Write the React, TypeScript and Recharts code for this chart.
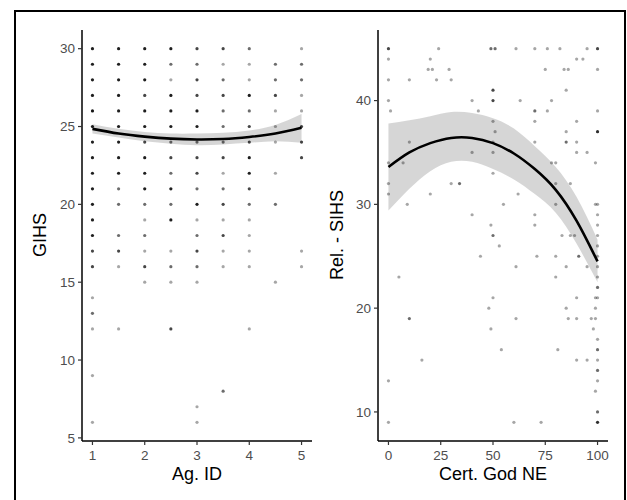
import { ComposedChart, Scatter, Area, Line, XAxis, YAxis } from 'recharts'

// left panel: Ag. ID vs GIHS
const agIdTicks = [1, 2, 3, 4, 5]
const gihsTicks = [5, 10, 15, 20, 25, 30]

// [x, y, number of overlapping answers]
const agIdPoints: [number, number, number][] = [
  [1, 30, 5], [1.5, 30, 5], [2, 30, 5], [2.5, 30, 5], [3, 30, 3], [3.5, 30, 3], [4, 30, 2], [5, 30, 1],
  [1, 29, 5], [1.5, 29, 5], [2, 29, 5], [2.5, 29, 2], [3, 29, 2], [3.5, 29, 1], [4, 29, 1], [4.5, 29, 2], [5, 29, 2],
  [1, 28, 5], [1.5, 28, 5], [2, 28, 5], [2.5, 28, 1], [3, 28, 3], [3.5, 28, 2], [4, 28, 1], [4.5, 28, 2], [5, 28, 2],
  [1, 27, 5], [1.5, 27, 5], [2, 27, 3], [2.5, 27, 5], [3, 27, 3], [3.5, 27, 3], [4, 27, 5], [4.5, 27, 3], [5, 27, 1],
  [1, 26, 6], [1.5, 26, 5], [2, 26, 5], [2.5, 26, 5], [3, 26, 5], [3.5, 26, 2], [4, 26, 2], [4.5, 26, 1], [5, 26, 1],
  [1, 25, 5], [1.5, 25, 5], [2, 25, 5], [2.5, 25, 5], [3, 25, 5], [3.5, 25, 2], [4, 25, 3], [4.5, 25, 1], [5, 25, 3],
  [1, 24, 5], [1.5, 24, 5], [2, 24, 3], [2.5, 24, 2], [3, 24, 2], [3.5, 24, 2], [4, 24, 3], [4.5, 24, 1], [5, 24, 3],
  [1, 23, 5], [1.5, 23, 5], [2, 23, 5], [2.5, 23, 3], [3, 23, 3], [3.5, 23, 3], [4, 23, 5], [5, 23, 3],
  [1, 22, 5], [1.5, 22, 5], [2, 22, 5], [2.5, 22, 2], [3, 22, 3], [3.5, 22, 1], [4, 22, 5], [4.5, 22, 1],
  [1, 21, 5], [1.5, 21, 2], [2, 21, 5], [2.5, 21, 5], [3, 21, 2], [3.5, 21, 2], [4, 21, 3],
  [1, 20, 5], [1.5, 20, 2], [2, 20, 2], [2.5, 20, 2], [3, 20, 5], [3.5, 20, 3], [4, 20, 2], [4.5, 20, 2],
  [1, 19, 5], [2, 19, 1], [2.5, 19, 5], [3, 19, 1], [3.5, 19, 1], [4, 19, 1],
  [1, 18, 5], [1.5, 18, 2], [2, 18, 2], [3, 18, 2], [3.5, 18, 3], [4, 18, 1],
  [1, 17, 3], [1.5, 17, 3], [2, 17, 1], [2.5, 17, 1], [3, 17, 3], [3.5, 17, 1], [4, 17, 1], [5, 17, 1],
  [1, 16, 3], [1.5, 16, 1], [2, 16, 3], [2.5, 16, 2], [3, 16, 2], [3.5, 16, 1], [4, 16, 1], [5, 16, 1],
  [2, 15, 1], [2.5, 15, 1], [3, 15, 1], [4.5, 15, 1],
  [1, 14, 1], [1, 13, 2],
  [1, 12, 1], [1.5, 12, 1], [2.5, 12, 3], [4, 12, 1],
  [1, 9, 1], [3.5, 8, 2], [3, 7, 1], [1, 6, 1], [3, 6, 1],
]

const agIdFitX = [1, 1.5, 2, 2.5, 3, 3.5, 4, 4.5, 5]
const agIdFit = [24.85, 24.55, 24.35, 24.22, 24.17, 24.2, 24.33, 24.55, 24.92]
const agIdLower = [24.55, 24.3, 24.05, 23.9, 23.8, 23.85, 23.95, 24.05, 23.95]
const agIdUpper = [25.15, 24.85, 24.65, 24.55, 24.55, 24.6, 24.75, 25.1, 25.8]

// right panel: Cert. God NE vs Rel. - SIHS
const certTicks = [0, 25, 50, 75, 100]
const sihsTicks = [10, 20, 30, 40]

const certPoints: [number, number, number][] = [
  [0, 45, 3], [24, 45, 1], [49, 45, 2], [51, 45, 2], [61, 45, 1], [70, 45, 1], [76, 45, 1], [82, 45, 1], [95, 45, 1], [100, 45, 3],
  [0, 44, 1], [20, 44, 1], [90, 44, 1], [93, 44, 1],
  [19, 43, 1], [21, 43, 1], [29, 43, 1], [75, 43, 1], [84, 43, 1], [86, 43, 1], [100, 43, 1],
  [0, 42, 1], [10, 42, 1], [23, 42, 1], [30, 42, 1],
  [50, 41, 3], [85, 41, 1],
  [0, 40, 1], [40, 40, 1], [50, 40, 3], [63, 40, 1], [78, 40, 1],
  [1, 39, 1], [43, 39, 1], [70, 39, 2], [76, 39, 1], [100, 39, 1],
  [50, 38, 1], [70, 38, 1], [90, 38, 1],
  [51, 37, 1], [85, 37, 1], [100, 37, 4],
  [10, 36, 1], [50, 36, 1], [70, 36, 1], [85, 36, 2], [90, 36, 1],
  [40, 35, 1], [50, 35, 1], [90, 35, 1], [95, 35, 1],
  [0, 34, 1], [7, 34, 1], [78, 34, 1], [80, 34, 1], [99, 34, 1],
  [50, 33, 1],
  [0, 32, 1], [30, 32, 1], [34, 32, 2], [80, 32, 1], [87, 32, 1],
  [0, 31, 1], [20, 31, 1], [62, 31, 1],
  [9, 30, 1], [55, 30, 1], [80, 30, 1], [99, 30, 1], [100, 30, 1],
  [40, 29, 1], [70, 29, 1], [100, 29, 1],
  [49, 28, 1], [70, 28, 1], [100, 28, 1],
  [50, 27, 2], [83, 27, 1], [87, 27, 1], [89, 27, 1], [100, 27, 1],
  [53, 26, 1], [100, 26, 1],
  [44, 25, 1], [71, 25, 1], [80, 25, 1], [91, 25, 2], [100, 25, 1],
  [61, 24, 1], [85, 24, 1], [95, 24, 1], [100, 24, 1],
  [5, 23, 1], [80, 23, 1], [100, 23, 1],
  [100, 22, 2],
  [50, 21, 1], [90, 21, 1], [99, 21, 1], [100, 21, 1],
  [48, 20, 1], [85, 20, 1], [99, 20, 1],
  [10, 19, 2], [61, 19, 1], [86, 19, 1], [90, 19, 1], [97, 19, 1], [99, 19, 1],
  [49, 18, 1], [98, 18, 1],
  [100, 17, 1],
  [54, 16, 1], [81, 16, 1], [100, 16, 2],
  [16, 15, 1], [90, 15, 1], [95, 15, 1], [100, 15, 1],
  [100, 14, 2],
  [0, 13, 1], [100, 13, 1],
  [99, 12, 1],
  [100, 10, 2],
  [0, 9, 1], [60, 9, 1], [73, 9, 1], [100, 9, 4],
]

const certFitX = [0, 10, 20, 30, 40, 50, 60, 70, 80, 90, 100]
const certFit = [33.6, 35.0, 35.9, 36.4, 36.4, 35.9, 34.9, 33.4, 31.4, 28.4, 24.5]
const certLower = [29.4, 31.5, 33.2, 34.1, 34.1, 33.4, 32.4, 31.0, 29.2, 26.2, 22.5]
const certUpper = [37.8, 38.1, 38.5, 38.9, 38.8, 38.3, 37.3, 35.6, 33.6, 30.7, 26.6]

const FONT = '"Liberation Sans", Arial, sans-serif'
const TICK_COLOR = '#4d4d4d'
const POINT_ALPHA = 0.35

function Dot(props: any) {
  const { cx, cy, payload } = props
  if (cx == null || cy == null) return null
  return <circle cx={cx} cy={cy} r={1.6} fill="#000" fillOpacity={1 - Math.pow(1 - POINT_ALPHA, payload.n)} />
}

interface PanelProps {
  left: number
  width: number
  yAxisWidth: number
  rightMargin: number
  xDomain: [number, number]
  yDomain: [number, number]
  xTicks: number[]
  yTicks: number[]
  points: [number, number, number][]
  fitX: number[]
  fit: number[]
  lower: number[]
  upper: number[]
}

function Panel(p: PanelProps) {
  const scatterData = p.points.map(([x, y, n]) => ({ x, y, n }))
  const fitData = p.fitX.map((x, i) => ({ x, fit: p.fit[i], band: [p.lower[i], p.upper[i]] }))
  return (
    <div style={{ position: 'absolute', left: p.left, top: 0 }}>
      <ComposedChart width={p.width} height={500} data={fitData}
        margin={{ top: 30, right: p.rightMargin, bottom: 0, left: 0 }} style={{ fontFamily: FONT }}>
        <XAxis dataKey="x" type="number" domain={p.xDomain} ticks={p.xTicks} allowDataOverflow
          height={59} tickSize={4} tickMargin={5} interval={0}
          axisLine={{ stroke: '#000', strokeWidth: 1.5 }} tickLine={{ stroke: '#333', strokeWidth: 1.2 }}
          tick={{ fill: TICK_COLOR, fontSize: 13.5, fontFamily: FONT }} />
        <YAxis dataKey="y" type="number" domain={p.yDomain} ticks={p.yTicks} allowDataOverflow
          width={p.yAxisWidth} tickSize={4} tickMargin={3} interval={0}
          axisLine={{ stroke: '#000', strokeWidth: 1.5 }} tickLine={{ stroke: '#333', strokeWidth: 1.2 }}
          tick={{ fill: TICK_COLOR, fontSize: 13.5, fontFamily: FONT }} />
        <Scatter data={scatterData} dataKey="y" shape={Dot} isAnimationActive={false} />
        <Area dataKey="band" type="natural" stroke="none" fill="#999999" fillOpacity={0.4}
          dot={false} activeDot={false} isAnimationActive={false} />
        <Line dataKey="fit" type="natural" stroke="#000" strokeWidth={2.6}
          dot={false} activeDot={false} isAnimationActive={false} />
      </ComposedChart>
    </div>
  )
}

const titleStyle: React.CSSProperties = {
  position: 'absolute', fontFamily: FONT, fontSize: 18, lineHeight: '18px', color: '#000', whiteSpace: 'nowrap',
  transform: 'translate(-50%, -50%)',
}

export default function App() {
  return (
    <div style={{ position: 'absolute', left: 0, top: 0, width: 627, height: 500, overflow: 'hidden', background: '#fff' }}>
      <div style={{ position: 'absolute', left: 14, top: 10, width: 612, height: 520, border: '2px solid #000', boxSizing: 'border-box' }} />
      <Panel left={0} width={320} yAxisWidth={82} rightMargin={8}
        xDomain={[0.8, 5.2]} yDomain={[4.8, 31.2]} xTicks={agIdTicks} yTicks={gihsTicks}
        points={agIdPoints} fitX={agIdFitX} fit={agIdFit} lower={agIdLower} upper={agIdUpper} />
      <Panel left={310} width={317} yAxisWidth={68} rightMargin={19}
        xDomain={[-5, 105]} yDomain={[7.2, 46.8]} xTicks={certTicks} yTicks={sihsTicks}
        points={certPoints} fitX={certFitX} fit={certFit} lower={certLower} upper={certUpper} />
      <div style={{ ...titleStyle, left: 197, top: 474 }}>Ag. ID</div>
      <div style={{ ...titleStyle, left: 493, top: 474 }}>Cert. God NE</div>
      <div style={{ ...titleStyle, left: 40, top: 235, transform: 'translate(-50%, -50%) rotate(-90deg)' }}>GIHS</div>
      <div style={{ ...titleStyle, left: 337, top: 235, transform: 'translate(-50%, -50%) rotate(-90deg)' }}>Rel. - SIHS</div>
    </div>
  )
}
